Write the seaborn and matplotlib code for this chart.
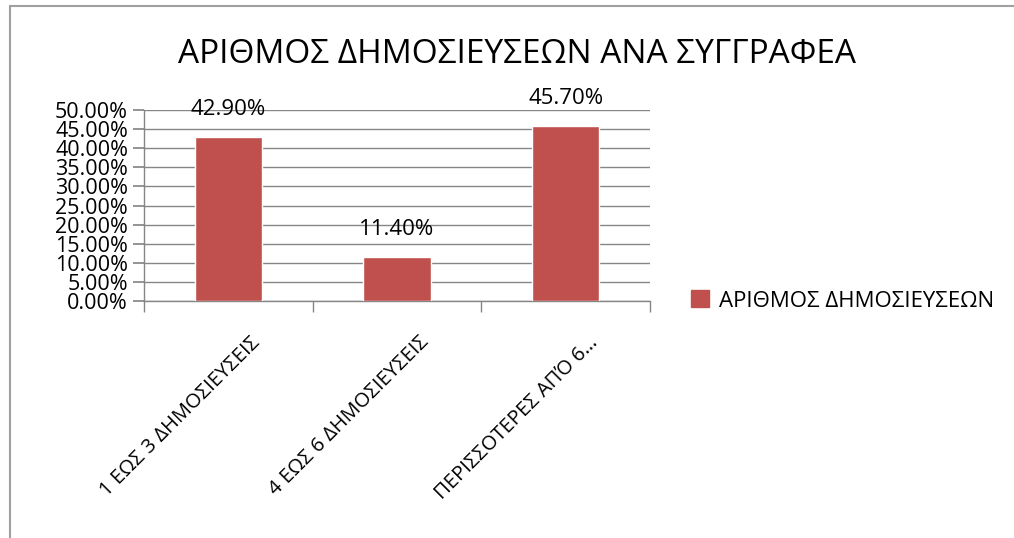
import matplotlib
matplotlib.use("Agg")
import matplotlib.pyplot as plt
import matplotlib.transforms as mtransforms
import seaborn as sns
import pandas as pd
from matplotlib.patches import Rectangle, Patch
from matplotlib.ticker import PercentFormatter

# Data
categories = ["1 ΕΩΣ 3 ΔΗΜΟΣΙΕΥΣΕΙΣ", "4 ΕΩΣ 6 ΔΗΜΟΣΙΕΥΣΕΙΣ", "ΠΕΡΙΣΣΟΤΕΡΕΣ ΑΠΌ 6…"]
values = [0.429, 0.114, 0.457]
series_name = "ΑΡΙΘΜΟΣ ΔΗΜΟΣΙΕΥΣΕΩΝ"
title = "ΑΡΙΘΜΟΣ ΔΗΜΟΣΙΕΥΣΕΩΝ ΑΝΑ ΣΥΓΓΡΑΦΕΑ"

BAR_COLOR = "#C0504D"
GRID_COLOR = "#868686"
FRAME_COLOR = "#A0A0A0"

sns.set_theme(style="white")
plt.rcParams["font.family"] = ["Open Sans", "DejaVu Sans"]
plt.rcParams["text.color"] = "black"
plt.rcParams["xtick.color"] = "black"
plt.rcParams["ytick.color"] = "black"

df = pd.DataFrame({"cat": categories, "val": values})

fig = plt.figure(figsize=(10.14, 5.38), dpi=100)
ax = fig.add_axes([144 / 1014, 1 - 301 / 538, (650 - 144) / 1014, (301 - 110) / 538])

sns.barplot(data=df, x="cat", y="val", color=BAR_COLOR, width=0.4,
            saturation=1, ax=ax, zorder=3)

ax.set_ylim(0, 0.5)
ax.set_xlim(-0.5, len(categories) - 0.5)
ax.set_yticks([i * 0.05 for i in range(11)])
ax.yaxis.set_major_formatter(PercentFormatter(xmax=1, decimals=2))
ax.grid(axis="y", color=GRID_COLOR, linewidth=1, zorder=0)
ax.set_xlabel("")
ax.set_ylabel("")

for s in ["top", "right"]:
    ax.spines[s].set_visible(False)
for s in ["left", "bottom"]:
    ax.spines[s].set_color(GRID_COLOR)
    ax.spines[s].set_linewidth(1)

# y labels sit tightly stacked, as in the original
ax.tick_params(axis="y", left=True, length=8, color=GRID_COLOR, labelsize=15.5, pad=3.5)
# category boundary ticks on x axis
ax.set_xticks([i - 0.5 for i in range(len(categories) + 1)], minor=True)
ax.tick_params(axis="x", which="minor", bottom=True, length=8, color=GRID_COLOR)
ax.tick_params(axis="x", which="major", bottom=False, labelsize=14.5, pad=8)
ax.set_xticks(range(len(categories)))
ax.set_xticklabels(categories, rotation=45, ha="right", rotation_mode="anchor")
shift = mtransforms.ScaledTranslation(22 / 100, -12 / 100, fig.dpi_scale_trans)
for lbl in ax.get_xticklabels():
    lbl.set_transform(lbl.get_transform() + shift)

# value labels above bars
for i, v in enumerate(values):
    ax.annotate(f"{v * 100:.2f}%", (i, v), xytext=(0, 20), textcoords="offset points",
                ha="center", va="center", fontsize=16, color="black")

fig.text(517 / 1014, 1 - 55 / 538, title, ha="center", va="center", fontsize=24)

# legend
handles = [Patch(facecolor=BAR_COLOR, edgecolor=BAR_COLOR, label=series_name)]
fig.legend(handles=handles, loc="center left", bbox_to_anchor=(671 / 1014, 1 - 301 / 538),
           frameon=False, fontsize=16, handlelength=0.8, handleheight=0.8,
           handletextpad=0.45)

# outer chart frame (right and bottom edges fall outside the picture)
fig.patches.append(Rectangle((10 / 1014, -0.05), 1.1, 1.05 - 6 / 538,
                             transform=fig.transFigure, fill=False,
                             edgecolor=FRAME_COLOR, linewidth=1.5))

fig.savefig("out.png", dpi=100, facecolor="white")
